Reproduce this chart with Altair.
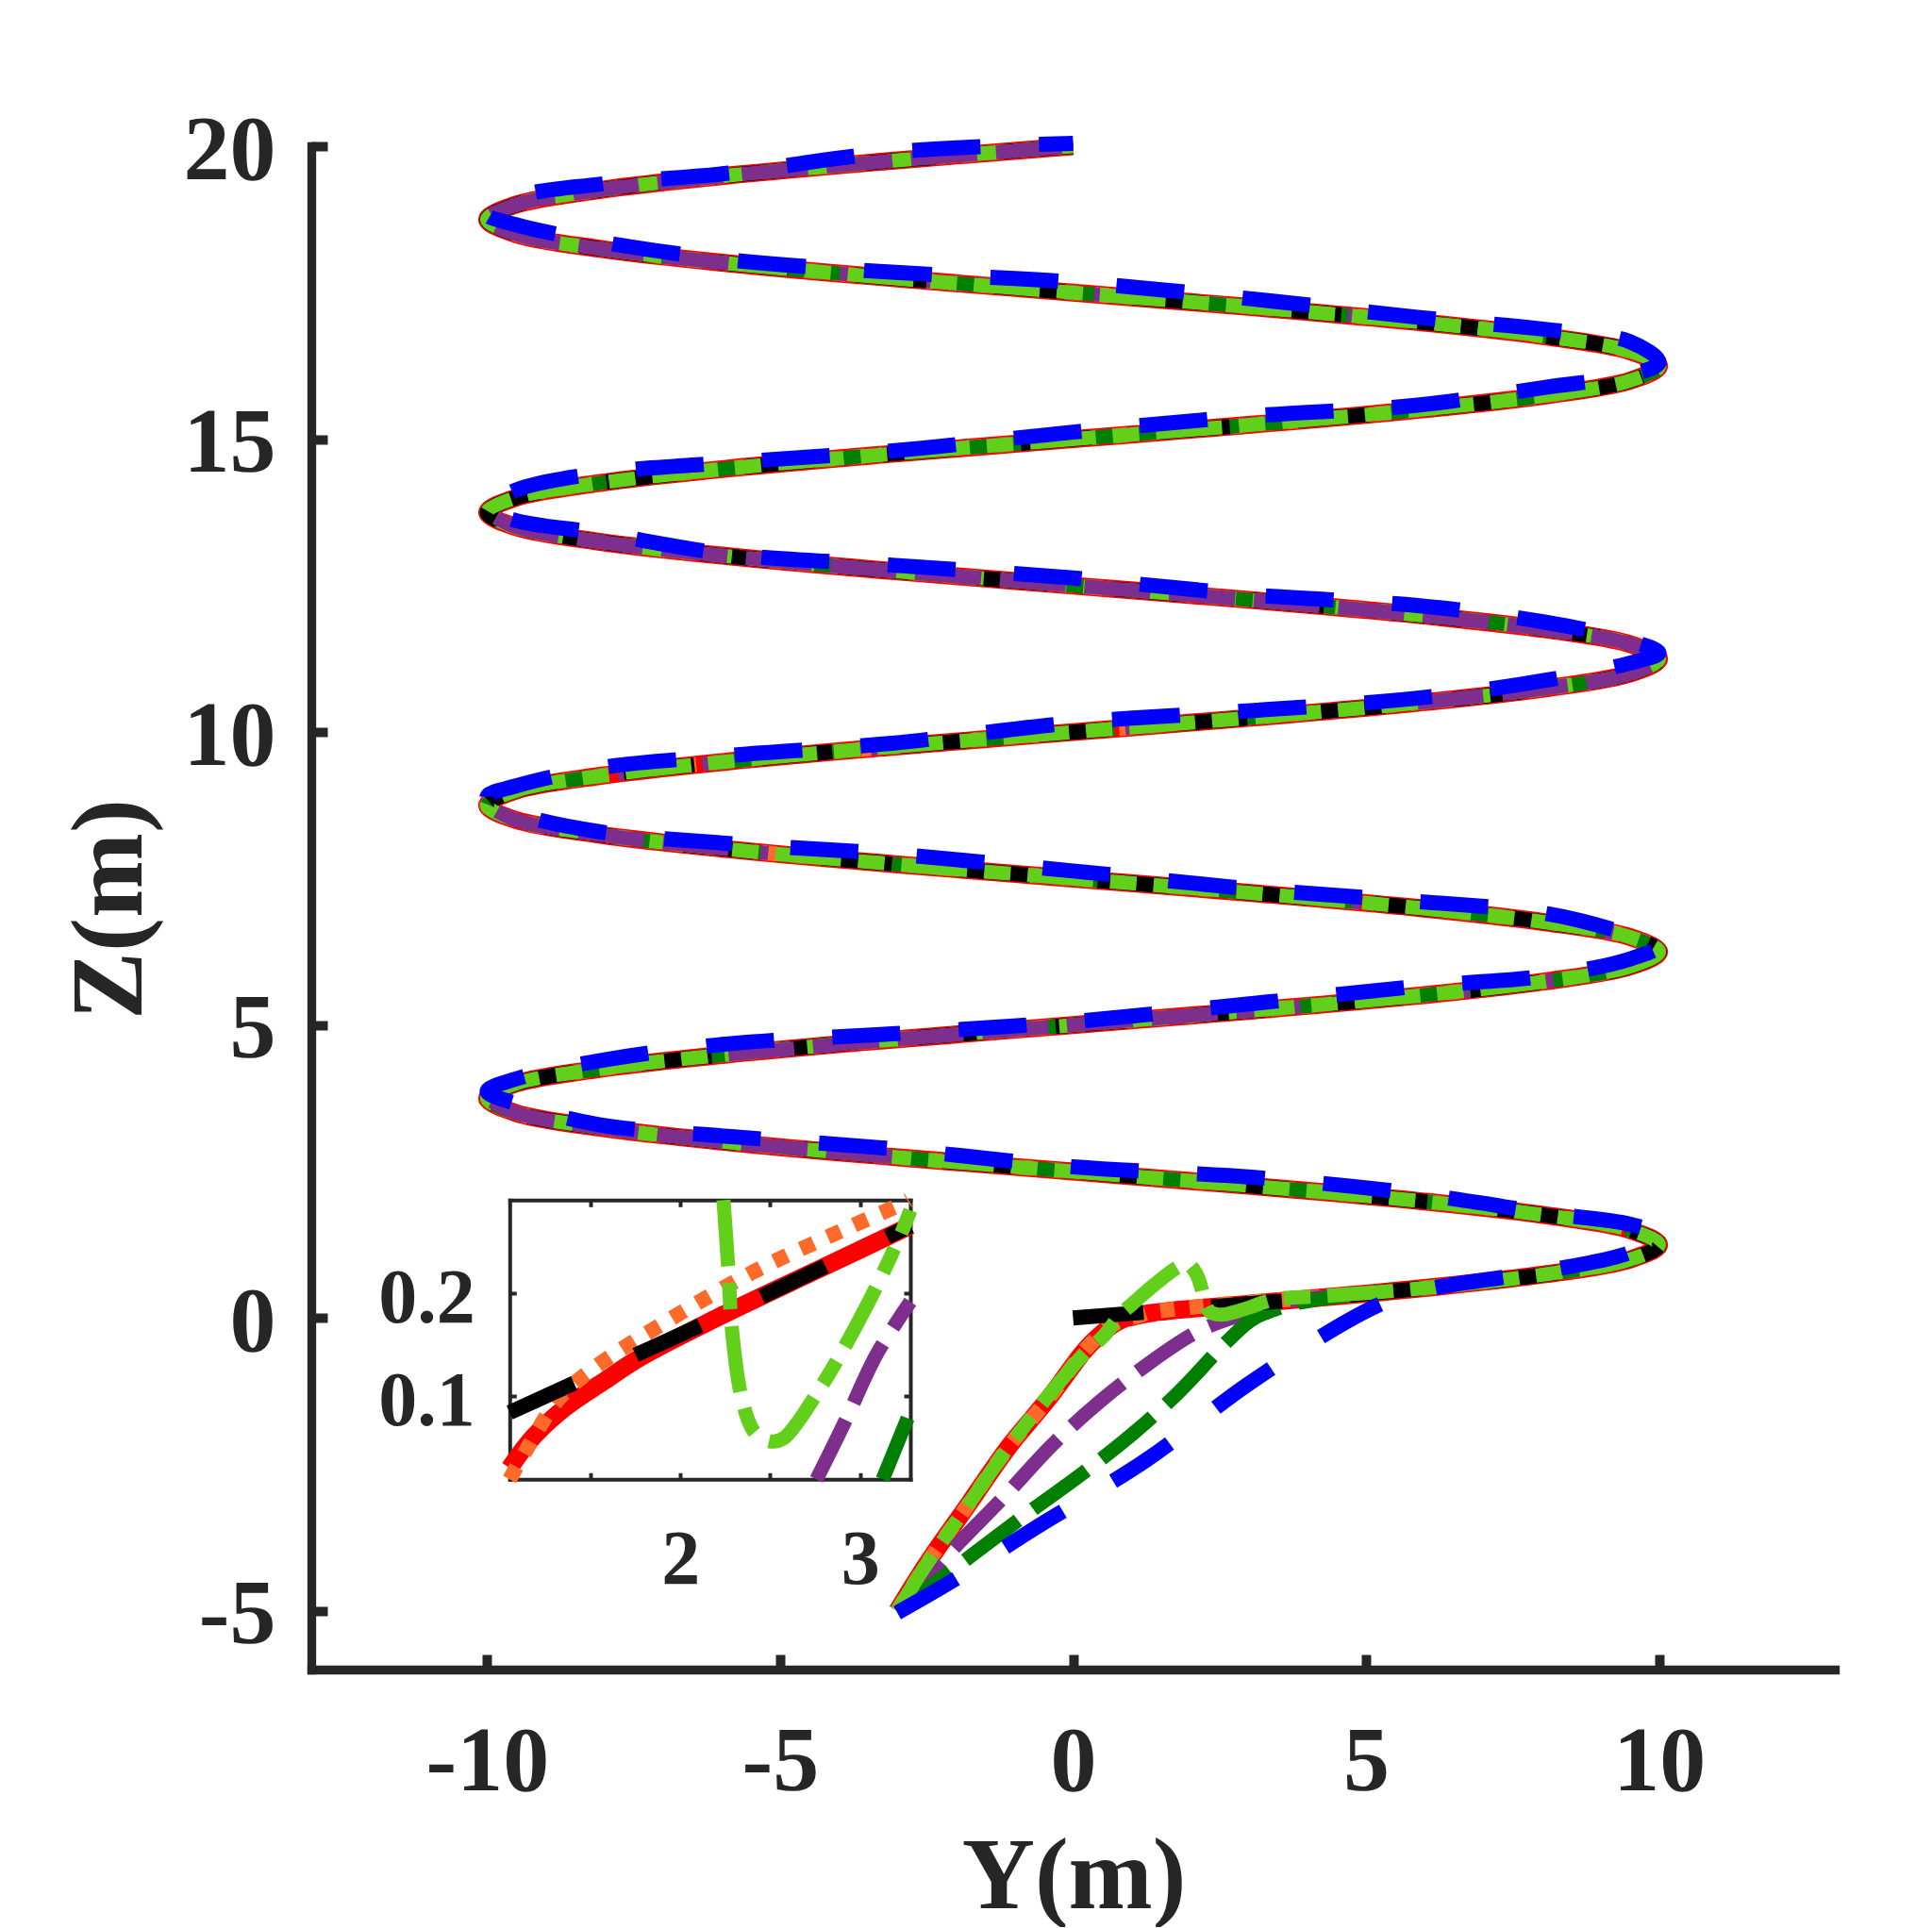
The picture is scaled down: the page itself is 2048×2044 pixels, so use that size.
import altair as alt
import pandas as pd

# ---------------- values ----------------
# reference helix (black), read every 0.25 m in Z
helix_z = [0.0, 0.25, 0.5, 0.75, 1.0, 1.25, 1.5, 1.75, 2.0, 2.25,
           2.5, 2.75, 3.0, 3.25, 3.5, 3.75, 4.0, 4.25, 4.5, 4.75,
           5.0, 5.25, 5.5, 5.75, 6.0, 6.25, 6.5, 6.75, 7.0, 7.25,
           7.5, 7.75, 8.0, 8.25, 8.5, 8.75, 9.0, 9.25, 9.5, 9.75,
           10.0, 10.25, 10.5, 10.75, 11.0, 11.25, 11.5, 11.75, 12.0, 12.25,
           12.5, 12.75, 13.0, 13.25, 13.5, 13.75, 14.0, 14.25, 14.5, 14.75,
           15.0, 15.25, 15.5, 15.75, 16.0, 16.25, 16.5, 16.75, 17.0, 17.25,
           17.5, 17.75, 18.0, 18.25, 18.5, 18.75, 19.0, 19.25, 19.5, 19.75,
           20.0]
helix_y = [0.0, 3.09, 5.88, 8.09, 9.51, 10.0, 9.51, 8.09, 5.88, 3.09,
           0.0, -3.09, -5.88, -8.09, -9.51, -10.0, -9.51, -8.09, -5.88, -3.09,
           0.0, 3.09, 5.88, 8.09, 9.51, 10.0, 9.51, 8.09, 5.88, 3.09,
           0.0, -3.09, -5.88, -8.09, -9.51, -10.0, -9.51, -8.09, -5.88, -3.09,
           0.0, 3.09, 5.88, 8.09, 9.51, 10.0, 9.51, 8.09, 5.88, 3.09,
           0.0, -3.09, -5.88, -8.09, -9.51, -10.0, -9.51, -8.09, -5.88, -3.09,
           0.0, 3.09, 5.88, 8.09, 9.51, 10.0, 9.51, 8.09, 5.88, 3.09,
           0.0, -3.09, -5.88, -8.09, -9.51, -10.0, -9.51, -8.09, -5.88, -3.09,
           0.0]

# approach segments of the trackers (start near (-3, -5)), after which they ride the helix
red_y = [-3.0, -2.5, -1.8, -1.1, -0.4, 0.2, 0.45, 0.7, 0.88, 1.0, 1.06, 1.18, 1.36, 1.57, 1.78]
red_z = [-5.0, -4.2, -3.2, -2.2, -1.35, -0.55, -0.3, -0.1, -0.01, 0.015, 0.032, 0.06, 0.089, 0.114, 0.138]
red_join = 0.25

orange_y = [-3.0, -2.5, -1.8, -1.1, -0.4, 0.2, 0.45, 0.7, 0.9, 1.06, 1.3, 1.52, 1.95, 2.42, 2.91, 3.24, 4.0]
orange_z = [-5.0, -4.2, -3.2, -2.2, -1.35, -0.55, -0.3, -0.1, -0.02, 0.02, 0.095, 0.127, 0.176, 0.222, 0.262, 0.288, 0.34]
orange_join = 0.5

lgreen_y = [-3.0, -2.5, -1.8, -1.1, -0.4, 0.2, 0.53, 0.81, 1.02, 1.4, 1.79, 1.95, 2.1, 2.18, 2.24,
            2.29, 2.34, 2.42, 2.53, 2.6, 2.79, 3.04, 3.23, 3.5, 4.2]
lgreen_z = [-5.0, -4.2, -3.2, -2.2, -1.3, -0.6, -0.3, 0.06, 0.25, 0.58, 0.87, 0.93, 0.76, 0.55, 0.3,
            0.167, 0.1, 0.07, 0.056, 0.062, 0.112, 0.19, 0.26, 0.33, 0.37]
lgreen_join = 0.5

purple_y = [-3.0, -2.1, -1.13, -0.36, 0.44, 1.3, 2.02, 2.45, 2.76, 2.92, 3.09, 3.27, 3.6, 4.3]
purple_z = [-5.0, -4.0, -3.0, -2.17, -1.44, -0.77, -0.29, -0.09, 0.019, 0.075, 0.14, 0.186, 0.27, 0.36]
purple_join = 0.5
# stretches of the helix (Z ranges) where the purple track shows on top of the others
purple_top_ranges = [(2.75, 3.75), (4.5, 5.25), (8.0, 8.75), (10.5, 13.75), (18.0, 20.0)]

dgreen_y = [-3.0, -1.69, -0.76, 0.13, 0.99, 1.79, 2.53, 2.95, 3.13, 3.27, 3.67, 4.2, 5.0]
dgreen_z = [-5.0, -4.02, -3.32, -2.675, -2.0, -1.28, -0.5, -0.1, 0.02, 0.08, 0.22, 0.32, 0.42]
dgreen_join = 0.5

blue_y = [-3.0, -2.0, -0.61, 1.24, 3.0, 4.84, 5.6, 6.3]
blue_z = [-5.03, -4.45, -3.56, -2.43, -1.12, 0.035, 0.38, 0.54]
blue_join = 0.75
# small offsets (m in Z) of the noisy blue track along the helix
blue_dz = [0.06, 0.12, 0.16, 0.10, 0.04, 0.12, 0.15, 0.08, 0.14, 0.10, 0.05, 0.16, 0.12,
           0.08, 0.14, 0.18, 0.10, 0.06, 0.12, 0.16, 0.09, 0.13, 0.10, 0.04, 0.15, 0.11,
           0.07, 0.13, 0.17, 0.10, 0.05, 0.12, 0.15, 0.08, 0.14, 0.10, 0.06, 0.16, 0.12,
           0.08, 0.14, 0.18, 0.10, 0.06, 0.12, 0.16, 0.09, 0.13, 0.10, 0.04, 0.15, 0.11,
           0.07, 0.13, 0.17, 0.10, 0.05, 0.12, 0.15, 0.08, 0.14, 0.10, 0.06, 0.16, 0.12,
           0.08, 0.14, 0.18, 0.10, 0.06, 0.12, 0.16, 0.09, 0.13, 0.10, 0.04, 0.15, 0.05]

# inset (zoom near Y = 1..3.3, Z = 0..0.3)
inset_red_y = [1.05, 1.18, 1.36, 1.57, 1.78, 2.2, 2.8, 3.28]
inset_red_z = [0.03, 0.06, 0.089, 0.114, 0.138, 0.176, 0.226, 0.266]
inset_black_y = [1.05, 1.6, 2.2, 2.8, 3.28]
inset_black_z = [0.084, 0.128, 0.176, 0.226, 0.266]
inset_orange_y = [1.05, 1.15, 1.322, 1.516, 1.953, 2.417, 2.907, 3.24, 3.27]
inset_orange_z = [0.019, 0.05, 0.097, 0.127, 0.176, 0.222, 0.262, 0.288, 0.291]
inset_lgreen_y = [2.24, 2.268, 2.286, 2.339, 2.408, 2.478, 2.53, 2.583, 2.793, 3.04, 3.23, 3.28]
inset_lgreen_z = [0.291, 0.221, 0.167, 0.1, 0.066, 0.057, 0.056, 0.06, 0.112, 0.189, 0.259, 0.281]
inset_purple_y = [2.758, 2.916, 3.09, 3.28]
inset_purple_z = [0.019, 0.075, 0.14, 0.192]
inset_dgreen_y = [3.126, 3.28]
inset_dgreen_z = [0.019, 0.085]

x_ticks = [-10, -5, 0, 5, 10]
z_ticks = [-5, 0, 5, 10, 15, 20]
inset_x_ticks = [1.5, 2, 2.5, 3]
inset_z_ticks = [0.1, 0.2]

# ---------------- tables ----------------
rows = []


def seg_of(z):
    for n, (a, b) in enumerate(purple_top_ranges):
        if a <= z <= b:
            return n
    return -1


def add(name, ys, zs, join_z, dz=None):
    k = 0
    for y, z in zip(ys, zs):
        rows.append({"s": name, "i": k, "Y": y, "Z": z, "seg": -1})
        k += 1
    j = 0
    for y, z in zip(helix_y, helix_z):
        if z >= join_z:
            d = dz[j] if dz is not None else 0.0
            sg = seg_of(z) if name == "purple" else -1
            rows.append({"s": name, "i": k, "Y": y, "Z": z + d, "seg": sg})
            k += 1
            j += 1


add("red", red_y, red_z, red_join)
add("black", [], [], 0.0)
add("dgreen", dgreen_y, dgreen_z, dgreen_join)
add("lgreen", lgreen_y, lgreen_z, lgreen_join)
add("orange", orange_y, orange_z, orange_join)
add("purple", purple_y, purple_z, purple_join)
add("blue", blue_y, blue_z, blue_join, blue_dz)
df = pd.DataFrame(rows)

irows = []
for name, ys, zs in [("red", inset_red_y, inset_red_z), ("black", inset_black_y, inset_black_z),
                     ("dgreen", inset_dgreen_y, inset_dgreen_z), ("lgreen", inset_lgreen_y, inset_lgreen_z),
                     ("orange", inset_orange_y, inset_orange_z), ("purple", inset_purple_y, inset_purple_z)]:
    for k, (y, z) in enumerate(zip(ys, zs)):
        irows.append({"s": name, "i": k, "Y": y, "Z": z, "seg": -1})
dfi = pd.DataFrame(irows)

# ---------------- styles (drawing order bottom -> top) ----------------
style = {
    "red": ("#FF0000", 19, None),
    "orange": ("#FF6A2A", 16, [15, 16]),
    "purple": ("#7E2F8E", 15, [70, 20]),
    "dgreen": ("#007F00", 15, [70, 20]),
    "black": ("#000000", 16, [75, 72]),
    "lgreen": ("#62D01A", 15, [70, 18, 28, 18]),
    "blue": ("#0000FF", 16, [72, 62]),
}
order = ["red", "orange", "purple", "dgreen", "black", "lgreen"]

AX = "#262626"
FONT = "Liberation Serif"
W = 1615
H = 1615
# inset box inside the plot area (pixels)
IX0, IX1 = 210.3, 635.0
IY0, IY1 = 1117.3, 1413.3

main_xs = alt.Scale(domain=[-13, 13], nice=False, zero=False)
main_ys = alt.Scale(domain=[-6, 20], nice=False, zero=False)
inset_xs = alt.Scale(domain=[1.05, 3.28], range=[IX0, IX1], nice=False, zero=False)
inset_ys = alt.Scale(domain=[0.019, 0.291], range=[IY1, IY0], nice=False, zero=False)

common = dict(grid=False, domainColor=AX, tickColor=AX, labelColor=AX, labelFont=FONT,
              labelFontWeight="bold", labelFlush=False, labelOverlap=False, domainCap="square")

main_x_axis = alt.Axis(values=x_ticks, title="Y(m)", domainWidth=9.3, tickWidth=10,
                       tickSize={"expr": "-16"}, labelFontSize=98, labelPadding=66,
                       labelExpr="'' + datum.value", titleFont=FONT, titleFontWeight="bold",
                       titleFontSize=107, titleColor=AX, titleX=808, titleY=252,
                       titleBaseline="alphabetic", titleAlign="center", **common)
main_y_axis = alt.Axis(values=z_ticks, title="Z(m)", domainWidth=9.3, tickWidth=10,
                       tickSize={"expr": "-17"}, labelFontSize=98, labelPadding=55, labelOffset=5,
                       labelExpr="'' + datum.value", titleFont=FONT, titleFontWeight="bold",
                       titleFontSize=108, titleColor=AX, titleX=-181, titleY=808.5, titleAngle=270,
                       titleBaseline="alphabetic", titleAlign="center", **common)

inset_bottom = alt.Axis(orient="bottom", offset=IY1 - H, values=inset_x_ticks, title=None,
                        domainWidth=4, tickWidth=4, tickSize={"expr": "-7"}, labelFontSize=82,
                        labelPadding=52, labelExpr="datum.value % 1 == 0 ? '' + datum.value : ''",
                        **common)
inset_left = alt.Axis(orient="left", offset=-IX0, values=inset_z_ticks, title=None,
                      domainWidth=4, tickWidth=4, tickSize={"expr": "-7"}, labelFontSize=82,
                      labelPadding=44, labelOffset=5, labelExpr="'' + datum.value", **common)
inset_top = alt.Axis(orient="top", offset=-IY0, values=inset_x_ticks, title=None,
                     domainWidth=4, tickWidth=4, tickSize={"expr": "-7"}, labels=False, **common)
inset_right = alt.Axis(orient="right", offset=IX1 - W, values=inset_z_ticks, title=None,
                       domainWidth=4, tickWidth=4, tickSize={"expr": "-7"}, labels=False, **common)


def line_layer(data, name, xs, ys, xaxis=None, yaxis=None, top_only=False):
    color, width, dash = style[name]
    mk = dict(color=color, strokeWidth=width, interpolate="catmull-rom", strokeCap="butt")
    if dash:
        mk["strokeDash"] = dash
    base = alt.Chart(data).transform_filter(alt.datum.s == name)
    enc = dict(
        x=alt.X("Y:Q", scale=xs, axis=xaxis),
        y=alt.Y("Z:Q", scale=ys, axis=yaxis),
        order=alt.Order("i:Q"),
    )
    if top_only:
        base = base.transform_filter(alt.datum.seg >= 0)
        enc["detail"] = alt.Detail("seg:N")
    return base.mark_line(**mk).encode(**enc)


layers = []
for name in order:
    if name == "red":
        layers.append(line_layer(df, name, main_xs, main_ys, main_x_axis, main_y_axis))
    else:
        layers.append(line_layer(df, name, main_xs, main_ys))
layers.append(line_layer(df, "purple", main_xs, main_ys, top_only=True))
layers.append(line_layer(df, "blue", main_xs, main_ys))

for name in order:
    if name == "red":
        layers.append(line_layer(dfi, name, inset_xs, inset_ys, inset_bottom, inset_left))
    elif name == "black":
        layers.append(line_layer(dfi, name, inset_xs, inset_ys, inset_top, inset_right))
    else:
        layers.append(line_layer(dfi, name, inset_xs, inset_ys))

chart = alt.layer(*layers).resolve_scale(x="independent", y="independent").properties(
    width=W, height=H, background="white",
    padding={"left": 55, "top": 103, "right": 40, "bottom": 0},
).configure_view(stroke=None)

chart.save("out.html", embed_options={"renderer": "svg", "actions": False})
